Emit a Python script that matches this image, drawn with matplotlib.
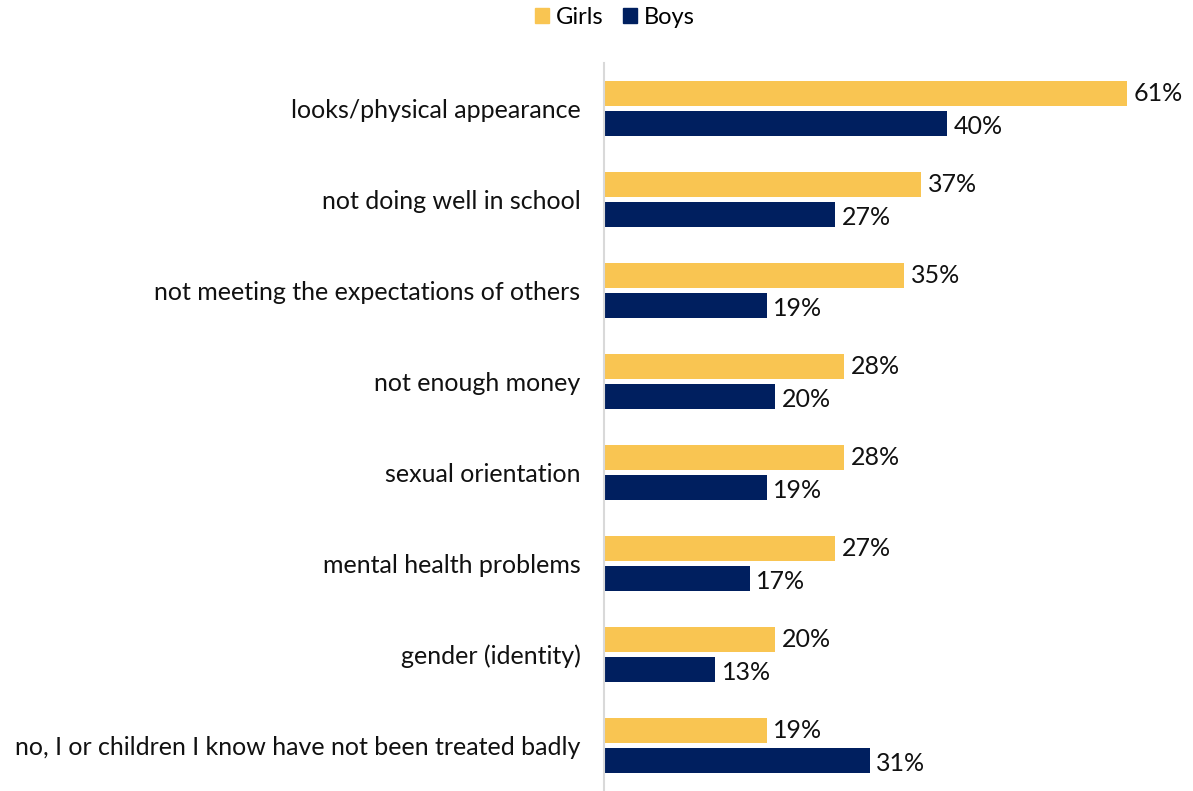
import matplotlib
matplotlib.use("Agg")
import matplotlib.pyplot as plt
import numpy as np
from matplotlib.patches import Patch

categories = [
    "looks/physical appearance",
    "not doing well in school",
    "not meeting the expectations of others",
    "not enough money",
    "sexual orientation",
    "mental health problems",
    "gender (identity)",
    "no, I or children I know have not been treated badly",
]
girls = [61, 37, 35, 28, 28, 27, 20, 19]
boys = [40, 27, 19, 20, 19, 17, 13, 31]

GIRLS_C = "#F9C552"
BOYS_C = "#001F5F"

plt.rcParams['font.family'] = ['Lato', 'DejaVu Sans']

W, H = 1193, 791
fig = plt.figure(figsize=(W/100, H/100), dpi=100)
ax = fig.add_axes([604/W, 0, 1 - 604/W, 1 - 63/H])

y = np.arange(len(categories))
h = 0.275
off = 0.165
ax.barh(y - off, girls, height=h, color=GIRLS_C)
ax.barh(y + off, boys, height=h, color=BOYS_C)

FS = 18
for yi, g, b in zip(y, girls, boys):
    ax.text(g + 0.75, yi - off, f"{g}%", va="center", ha="left", fontsize=FS, color="#111111")
    ax.text(b + 0.75, yi + off + 0.03, f"{b}%", va="center", ha="left", fontsize=FS, color="#111111")

ax.set_xlim(0, (W - 604) / 8.574)
ax.set_ylim(len(categories) - 0.5, -0.5)
ax.set_yticks(y)
ax.set_yticklabels(categories, fontsize=FS, color="#111111")
ax.tick_params(axis="y", length=0, pad=17)
ax.set_xticks([])
for s in ["top", "right", "bottom"]:
    ax.spines[s].set_visible(False)
ax.spines["left"].set_color("#D9D9D9")
ax.spines["left"].set_linewidth(1.5)

handles = [Patch(color=GIRLS_C, label="Girls"), Patch(color=BOYS_C, label="Boys")]
fig.legend(handles=handles, loc="center", bbox_to_anchor=(615/W, 1 - 17/H), ncol=2,
           frameon=False, fontsize=17, handlelength=0.6, handleheight=0.6,
           handletextpad=0.3, columnspacing=0.8)

fig.savefig("out.png", dpi=100)
